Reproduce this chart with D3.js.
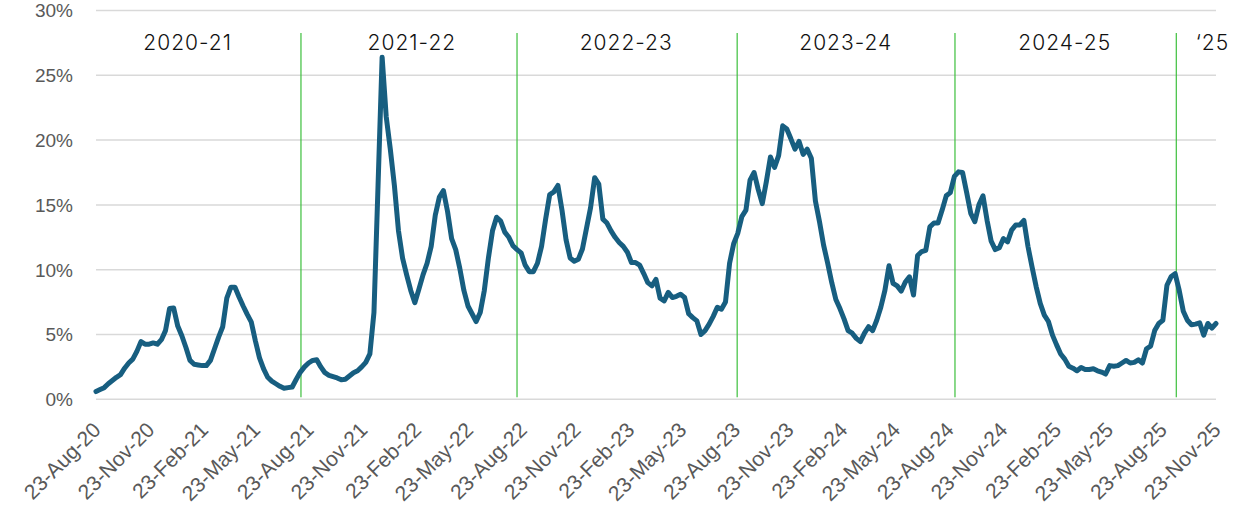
<!DOCTYPE html>
<html lang="en">
<head>
    <meta charset="UTF-8">
    <title>Weekly rate by season</title>
    <script src="https://d3js.org/d3.v7.min.js"></script>
    <style>
        body { margin: 0; background: #fff; }
    </style>
</head>
<body>
<script>
// weekly series, first week 23-Aug-20
const startDate = "2020-08-23";
const weeklyValues = [
    0.6, 0.75, 0.9, 1.2, 1.45, 1.7, 1.9, 2.4, 2.8, 3.1,
    3.7, 4.45, 4.25, 4.25, 4.35, 4.25, 4.6, 5.3, 7.0, 7.05,
    5.65, 4.9, 4.0, 3.0, 2.7, 2.65, 2.6, 2.6, 3.0, 3.9,
    4.8, 5.6, 7.8, 8.65, 8.65, 7.9, 7.2, 6.55, 5.95, 4.5,
    3.2, 2.35, 1.7, 1.4, 1.2, 1.0, 0.85, 0.9, 0.95, 1.55,
    2.1, 2.5, 2.8, 3.0, 3.05, 2.5, 2.05, 1.85, 1.75, 1.65,
    1.5, 1.55, 1.8, 2.05, 2.2, 2.5, 2.85, 3.5, 6.7, 16.5,
    26.4, 21.8, 19.3, 16.5, 13.0, 10.9, 9.6, 8.4, 7.45, 8.5,
    9.6, 10.5, 11.8, 14.2, 15.6, 16.1, 14.5, 12.4, 11.55, 10.1,
    8.4, 7.2, 6.6, 6.0, 6.7, 8.4, 10.9, 13.0, 14.05, 13.75,
    12.9, 12.5, 11.85, 11.55, 11.3, 10.35, 9.85, 9.85, 10.5, 11.8,
    13.9, 15.8, 16.0, 16.5, 14.6, 12.3, 10.9, 10.65, 10.8, 11.6,
    13.2, 14.8, 17.1, 16.6, 13.9, 13.6, 13.0, 12.5, 12.1, 11.8,
    11.35, 10.55, 10.55, 10.35, 9.7, 9.0, 8.75, 9.25, 7.8, 7.6,
    8.25, 7.85, 7.95, 8.1, 7.85, 6.6, 6.3, 6.05, 5.0, 5.3,
    5.8, 6.4, 7.1, 6.95, 7.5, 10.5, 12.0, 12.8, 14.1, 14.6,
    16.9, 17.5, 16.2, 15.1, 16.8, 18.7, 17.9, 18.8, 21.1, 20.85,
    20.1, 19.3, 19.9, 18.9, 19.3, 18.6, 15.3, 13.7, 11.9, 10.5,
    9.0, 7.7, 7.0, 6.2, 5.3, 5.1, 4.7, 4.45, 5.1, 5.6,
    5.3, 6.1, 7.1, 8.4, 10.3, 8.95, 8.75, 8.35, 9.05, 9.45,
    8.05, 11.1, 11.4, 11.5, 13.3, 13.6, 13.6, 14.6, 15.7, 15.95,
    17.2, 17.55, 17.5, 15.95, 14.35, 13.7, 15.0, 15.7, 13.8, 12.2,
    11.55, 11.7, 12.4, 12.15, 13.05, 13.45, 13.45, 13.8, 11.8, 10.2,
    8.7, 7.4, 6.5, 6.0, 4.95, 4.2, 3.5, 3.1, 2.55, 2.4,
    2.2, 2.45, 2.3, 2.3, 2.35, 2.2, 2.1, 1.95, 2.6, 2.55,
    2.6, 2.8, 3.0, 2.8, 2.85, 3.05, 2.8, 3.9, 4.1, 5.3,
    5.85, 6.1, 8.8, 9.45, 9.7, 8.4, 6.8, 6.1, 5.75, 5.8,
    5.9, 4.95, 5.85, 5.5, 5.85
];

// season boundaries and labels
const seasonBreaks = ["2021-08-09", "2022-08-14", "2023-08-26", "2024-09-02", "2025-09-16"];
const seasonLabels = ["2020-21", "2021-22", "2022-23", "2023-24", "2024-25", "\u201825"];
const seasonLabelDates = ["2021-01-27", "2022-02-15", "2023-02-17", "2024-02-28", "2025-03-09", "2025-11-17"];

// axis ticks
const yTicks = [0, 5, 10, 15, 20, 25, 30];
const xTickStart = "2020-08-23";
const xTickEnd = "2025-11-23";
const xTickMonths = 3;

const width = 1242, height = 519;
const margin = {top: 10.5, right: 26, bottom: 119.7, left: 96};

const parse = d3.timeParse("%Y-%m-%d");
const t0 = parse(startDate);
const data = weeklyValues.map((v, i) => ({date: d3.timeDay.offset(t0, i * 7), value: v}));

const svg = d3.select("body").append("svg")
    .attr("width", width)
    .attr("height", height);

const x = d3.scaleTime()
    .domain([parse(xTickStart), parse(xTickEnd)])
    .range([margin.left, width - margin.right]);

const y = d3.scaleLinear()
    .domain([0, 30])
    .range([height - margin.bottom, margin.top]);

// gridlines
svg.append("g")
    .selectAll("line")
    .data(yTicks)
    .enter().append("line")
    .attr("x1", x.range()[0])
    .attr("x2", x.range()[1])
    .attr("y1", d => y(d))
    .attr("y2", d => y(d))
    .attr("stroke", "#d9d9d9")
    .attr("stroke-width", 1.5);

// y labels
svg.append("g")
    .selectAll("text")
    .data(yTicks)
    .enter().append("text")
    .attr("x", 73)
    .attr("y", d => y(d))
    .attr("dy", "0.36em")
    .attr("text-anchor", "end")
    .attr("font-family", "Liberation Sans, Arial, sans-serif")
    .attr("font-size", 19)
    .attr("fill", "#595959")
    .text(d => d + "%");

// x labels, every 3 months counted from the first date
const tEnd = parse(xTickEnd);
const xTicks = [];
for (let d = parse(xTickStart); d <= tEnd; d = d3.timeMonth.offset(d, xTickMonths)) xTicks.push(d);
const fmt = d3.timeFormat("%d-%b-%y");
svg.append("g")
    .selectAll("text")
    .data(xTicks)
    .enter().append("text")
    .attr("transform", d => `translate(${x(d) + 6},${y(0) + 32}) rotate(-45)`)
    .attr("text-anchor", "end")
    .attr("font-family", "Liberation Sans, Arial, sans-serif")
    .attr("font-size", 21)
    .attr("fill", "#595959")
    .text(d => fmt(d));

// season dividers
svg.append("g")
    .selectAll("line")
    .data(seasonBreaks)
    .enter().append("line")
    .attr("x1", d => x(parse(d)))
    .attr("x2", d => x(parse(d)))
    .attr("y1", 33)
    .attr("y2", y(0) - 2)
    .attr("stroke", "#3cbf3c")
    .attr("stroke-width", 1.2);

svg.append("g")
    .selectAll("text")
    .data(seasonLabels)
    .enter().append("text")
    .attr("x", (d, i) => x(parse(seasonLabelDates[i])))
    .attr("y", 50)
    .attr("text-anchor", "middle")
    .attr("font-family", "Inter, Lato, sans-serif")
    .attr("font-weight", 300)
    .attr("font-size", 21)
    .attr("letter-spacing", 1)
    .attr("fill", "#111")
    .text(d => d);

// the series
const line = d3.line()
    .x(d => x(d.date))
    .y(d => y(d.value));

svg.append("path")
    .datum(data)
    .attr("d", line)
    .attr("fill", "none")
    .attr("stroke", "#175e80")
    .attr("stroke-width", 5)
    .attr("stroke-linejoin", "round")
    .attr("stroke-linecap", "round");
</script>
</body>
</html>
